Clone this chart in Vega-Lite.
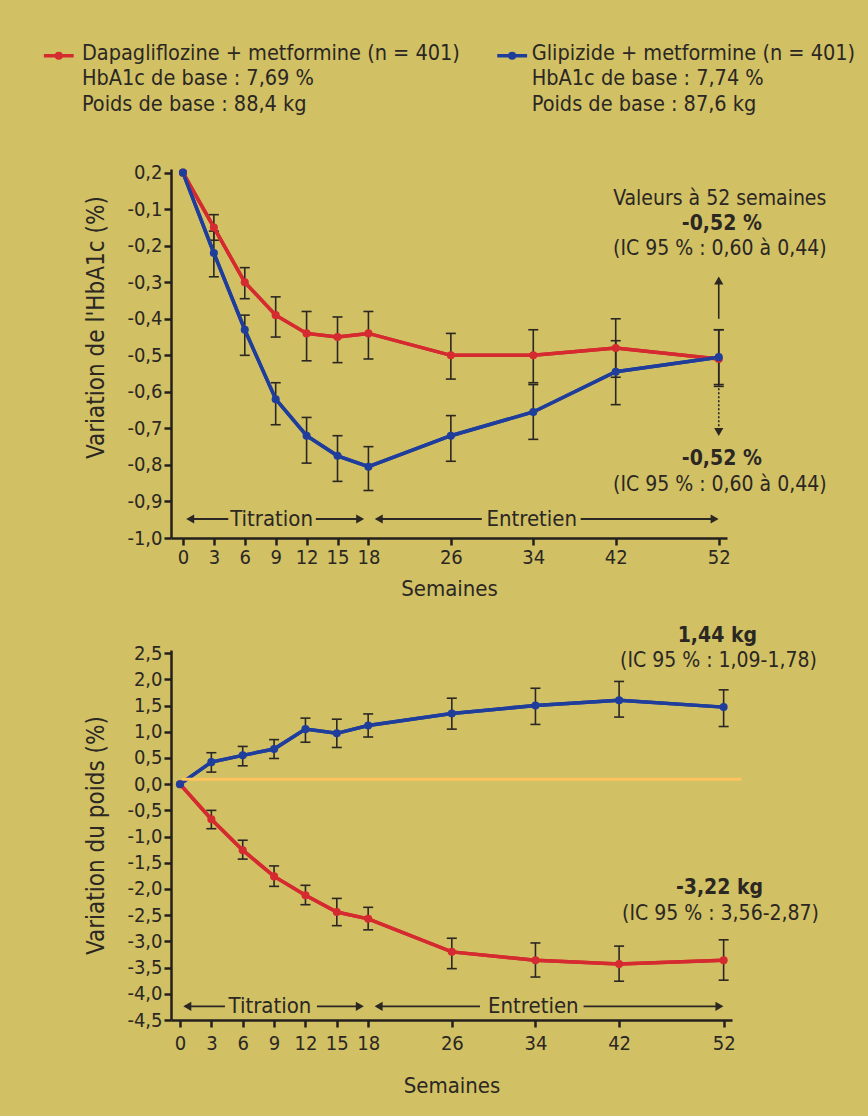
{
  "$schema": "https://vega.github.io/schema/vega-lite/v6.json",
  "background": "#d1c064",
  "padding": {"left": 42, "top": 43, "right": 40, "bottom": 22},
  "bounds": "flush",
  "spacing": 112,
  "config": {
    "font": "Liberation Sans Narrow, DejaVu Sans Condensed, sans-serif",
    "view": {"stroke": null},
    "axis": {
      "grid": false,
      "domainColor": "#231f1c",
      "domainWidth": 2.5,
      "tickColor": "#231f1c",
      "tickWidth": 2.5,
      "tickSize": 7,
      "labelFontSize": 20,
      "labelColor": "#2b2723",
      "labelOverlap": false,
      "titleFontSize": 22,
      "titleFontWeight": "normal",
      "titleColor": "#2b2723",
      "labelFont": "Liberation Sans Narrow, DejaVu Sans Condensed, sans-serif",
      "titleFont": "Liberation Sans Narrow, DejaVu Sans Condensed, sans-serif"
    },
    "text": {"fontSize": 21, "color": "#2b2723"}
  },
  "datasets": {
    "hba": [
      {"week": 0, "groupe": "Dapagliflozine + metformine", "val": 0, "lo": 0, "hi": 0},
      {"week": 3, "groupe": "Dapagliflozine + metformine", "val": -0.15, "lo": -0.185, "hi": -0.115},
      {"week": 6, "groupe": "Dapagliflozine + metformine", "val": -0.30, "lo": -0.345, "hi": -0.26},
      {"week": 9, "groupe": "Dapagliflozine + metformine", "val": -0.39, "lo": -0.45, "hi": -0.34},
      {"week": 12, "groupe": "Dapagliflozine + metformine", "val": -0.44, "lo": -0.515, "hi": -0.38},
      {"week": 15, "groupe": "Dapagliflozine + metformine", "val": -0.45, "lo": -0.52, "hi": -0.395},
      {"week": 18, "groupe": "Dapagliflozine + metformine", "val": -0.44, "lo": -0.51, "hi": -0.38},
      {"week": 26, "groupe": "Dapagliflozine + metformine", "val": -0.50, "lo": -0.565, "hi": -0.44},
      {"week": 34, "groupe": "Dapagliflozine + metformine", "val": -0.50, "lo": -0.575, "hi": -0.43},
      {"week": 42, "groupe": "Dapagliflozine + metformine", "val": -0.48, "lo": -0.56, "hi": -0.40},
      {"week": 52, "groupe": "Dapagliflozine + metformine", "val": -0.51, "lo": -0.585, "hi": -0.43},
      {"week": 0, "groupe": "Glipizide + metformine", "val": 0, "lo": 0, "hi": 0},
      {"week": 3, "groupe": "Glipizide + metformine", "val": -0.22, "lo": -0.285, "hi": -0.16},
      {"week": 6, "groupe": "Glipizide + metformine", "val": -0.43, "lo": -0.50, "hi": -0.39},
      {"week": 9, "groupe": "Glipizide + metformine", "val": -0.62, "lo": -0.69, "hi": -0.575},
      {"week": 12, "groupe": "Glipizide + metformine", "val": -0.72, "lo": -0.795, "hi": -0.67},
      {"week": 15, "groupe": "Glipizide + metformine", "val": -0.775, "lo": -0.845, "hi": -0.72},
      {"week": 18, "groupe": "Glipizide + metformine", "val": -0.805, "lo": -0.87, "hi": -0.75},
      {"week": 26, "groupe": "Glipizide + metformine", "val": -0.72, "lo": -0.79, "hi": -0.665},
      {"week": 34, "groupe": "Glipizide + metformine", "val": -0.655, "lo": -0.73, "hi": -0.58},
      {"week": 42, "groupe": "Glipizide + metformine", "val": -0.545, "lo": -0.635, "hi": -0.46},
      {"week": 52, "groupe": "Glipizide + metformine", "val": -0.505, "lo": -0.58, "hi": -0.43}
    ],
    "poids": [
      {"week": 0, "groupe": "Dapagliflozine + metformine", "val": 0, "lo": 0, "hi": 0},
      {"week": 3, "groupe": "Dapagliflozine + metformine", "val": -0.67, "lo": -0.85, "hi": -0.5},
      {"week": 6, "groupe": "Dapagliflozine + metformine", "val": -1.26, "lo": -1.43, "hi": -1.07},
      {"week": 9, "groupe": "Dapagliflozine + metformine", "val": -1.76, "lo": -1.95, "hi": -1.56},
      {"week": 12, "groupe": "Dapagliflozine + metformine", "val": -2.12, "lo": -2.3, "hi": -1.93},
      {"week": 15, "groupe": "Dapagliflozine + metformine", "val": -2.44, "lo": -2.7, "hi": -2.18},
      {"week": 18, "groupe": "Dapagliflozine + metformine", "val": -2.57, "lo": -2.78, "hi": -2.35},
      {"week": 26, "groupe": "Dapagliflozine + metformine", "val": -3.2, "lo": -3.52, "hi": -2.94},
      {"week": 34, "groupe": "Dapagliflozine + metformine", "val": -3.36, "lo": -3.68, "hi": -3.03},
      {"week": 42, "groupe": "Dapagliflozine + metformine", "val": -3.43, "lo": -3.76, "hi": -3.09},
      {"week": 52, "groupe": "Dapagliflozine + metformine", "val": -3.36, "lo": -3.74, "hi": -2.97},
      {"week": 0, "groupe": "Glipizide + metformine", "val": 0, "lo": 0, "hi": 0},
      {"week": 3, "groupe": "Glipizide + metformine", "val": 0.42, "lo": 0.23, "hi": 0.6},
      {"week": 6, "groupe": "Glipizide + metformine", "val": 0.55, "lo": 0.35, "hi": 0.72},
      {"week": 9, "groupe": "Glipizide + metformine", "val": 0.67, "lo": 0.49, "hi": 0.85},
      {"week": 12, "groupe": "Glipizide + metformine", "val": 1.05, "lo": 0.8, "hi": 1.26},
      {"week": 15, "groupe": "Glipizide + metformine", "val": 0.97, "lo": 0.7, "hi": 1.24},
      {"week": 18, "groupe": "Glipizide + metformine", "val": 1.12, "lo": 0.9, "hi": 1.34},
      {"week": 26, "groupe": "Glipizide + metformine", "val": 1.35, "lo": 1.05, "hi": 1.64},
      {"week": 34, "groupe": "Glipizide + metformine", "val": 1.5, "lo": 1.14, "hi": 1.83},
      {"week": 42, "groupe": "Glipizide + metformine", "val": 1.6, "lo": 1.28, "hi": 1.96},
      {"week": 52, "groupe": "Glipizide + metformine", "val": 1.47, "lo": 1.1, "hi": 1.8}
    ]
  },
  "vconcat": [
    {
      "width": 556,
      "height": 369,
      "resolve": {"axis": {"y": "independent"}},
      "encoding": {
        "x": {"type": "quantitative", "scale": {"domain": [-1.16, 52.8], "nice": false, "zero": false},
              "axis": {"values": [0, 3, 6, 9, 12, 15, 18, 26, 34, 42, 52], "title": "Semaines", "labelPadding": 2, "titlePadding": 11}}
      },
      "layer": [
        {
          "data": {"name": "hba"},
          "mark": {"type": "line", "strokeWidth": 3.5},
          "encoding": {
            "x": {"field": "week", "type": "quantitative"},
            "y": {"field": "val", "type": "quantitative", "scale": {"domain": [-1.0, 0.01], "nice": false, "zero": false},
                  "axis": {"values": [0, -0.1, -0.2, -0.3, -0.4, -0.5, -0.6, -0.7, -0.8, -0.9, -1.0],
                           "labelExpr": "datum.value > -0.05 ? '0,2' : '-' + replace(format(abs(datum.value), '.1f'), '.', ',')",
                           "title": "Variation de l'HbA1c (%)", "titleFontSize": 24, "titleY": 158, "titlePadding": 18, "labelPadding": 2}},
            "color": {"field": "groupe", "type": "nominal", "scale": {"domain": ["Dapagliflozine + metformine", "Glipizide + metformine"], "range": ["#d42a30", "#1f3e9c"]}, "legend": null}
          }
        },
        {
          "data": {"name": "hba"},
          "transform": [{"filter": "datum.week > 0"}],
          "mark": {"type": "rule", "strokeWidth": 1.6, "color": "#2b2723"},
          "encoding": {
            "x": {"field": "week", "type": "quantitative"},
            "y": {"field": "lo", "type": "quantitative", "axis": null},
            "y2": {"field": "hi"}
          }
        },
        {
          "data": {"name": "hba"},
          "transform": [{"filter": "datum.week > 0"}, {"fold": ["lo", "hi"], "as": ["bound", "bval"]}],
          "mark": {"type": "tick", "orient": "horizontal", "size": 10, "thickness": 1.6, "color": "#2b2723", "opacity": 1},
          "encoding": {
            "x": {"field": "week", "type": "quantitative"},
            "y": {"field": "bval", "type": "quantitative", "axis": null}
          }
        },
        {
          "data": {"name": "hba"},
          "mark": {"type": "line", "strokeWidth": 3.5},
          "encoding": {
            "x": {"field": "week", "type": "quantitative"},
            "y": {"field": "val", "type": "quantitative", "axis": null},
            "color": {"field": "groupe", "type": "nominal", "legend": null}
          }
        },
        {
          "data": {"name": "hba"},
          "mark": {"type": "point", "filled": true, "size": 65, "opacity": 1},
          "encoding": {
            "x": {"field": "week", "type": "quantitative"},
            "y": {"field": "val", "type": "quantitative", "axis": null},
            "color": {"field": "groupe", "type": "nominal", "legend": null}
          }
        },
        {
          "data": {"values": [
            {"x": -13.5, "x2": -10.6, "y": 0.32, "groupe": "Dapagliflozine + metformine"},
            {"x": 30.5, "x2": 33.4, "y": 0.32, "groupe": "Glipizide + metformine"}
          ]},
          "mark": {"type": "rule", "strokeWidth": 3.5},
          "encoding": {
            "x": {"field": "x", "type": "quantitative"},
            "x2": {"field": "x2"},
            "y": {"field": "y", "type": "quantitative", "axis": null},
            "color": {"field": "groupe", "type": "nominal", "legend": null}
          }
        },
        {
          "data": {"values": [
            {"x": -12.05, "y": 0.32, "groupe": "Dapagliflozine + metformine"},
            {"x": 31.95, "y": 0.32, "groupe": "Glipizide + metformine"}
          ]},
          "mark": {"type": "point", "filled": true, "size": 65, "opacity": 1},
          "encoding": {
            "x": {"field": "x", "type": "quantitative"},
            "y": {"field": "y", "type": "quantitative", "axis": null},
            "color": {"field": "groupe", "type": "nominal", "legend": null}
          }
        },
        {
          "data": {"values": [
            {"x": -9.8, "y": 0.324, "label": "Dapagliflozine + metformine (n = 401)"},
            {"x": -9.8, "y": 0.255, "label": "HbA1c de base : 7,69 %"},
            {"x": -9.8, "y": 0.184, "label": "Poids de base : 88,4 kg"},
            {"x": 33.85, "y": 0.324, "label": "Glipizide + metformine (n = 401)"},
            {"x": 33.85, "y": 0.255, "label": "HbA1c de base : 7,74 %"},
            {"x": 33.85, "y": 0.184, "label": "Poids de base : 87,6 kg"}
          ]},
          "mark": {"type": "text", "align": "left", "baseline": "middle", "fontSize": 21.5},
          "encoding": {
            "x": {"field": "x", "type": "quantitative"},
            "y": {"field": "y", "type": "quantitative", "axis": null},
            "text": {"field": "label"}
          }
        },
        {
          "data": {"values": [
            {"x": 52.1, "y": -0.071, "label": "Valeurs à 52 semaines"},
            {"x": 52.1, "y": -0.208, "label": "(IC 95 % : 0,60 à 0,44)"},
            {"x": 52.1, "y": -0.855, "label": "(IC 95 % : 0,60 à 0,44)"}
          ]},
          "mark": {"type": "text", "align": "center", "baseline": "middle", "fontSize": 21},
          "encoding": {
            "x": {"field": "x", "type": "quantitative"},
            "y": {"field": "y", "type": "quantitative", "axis": null},
            "text": {"field": "label"}
          }
        },
        {
          "data": {"values": [
            {"x": 52.3, "y": -0.14, "label": "-0,52 %"},
            {"x": 52.3, "y": -0.784, "label": "-0,52 %"}
          ]},
          "mark": {"type": "text", "align": "center", "baseline": "middle", "fontSize": 21, "fontWeight": "bold"},
          "encoding": {
            "x": {"field": "x", "type": "quantitative"},
            "y": {"field": "y", "type": "quantitative", "axis": null},
            "text": {"field": "label"}
          }
        },
        {
          "data": {"values": [{"x": 52, "y": -0.40, "y2": -0.30}]},
          "mark": {"type": "rule", "strokeWidth": 1.6, "color": "#2b2723"},
          "encoding": {
            "x": {"field": "x", "type": "quantitative"},
            "y": {"field": "y", "type": "quantitative", "axis": null},
            "y2": {"field": "y2"}
          }
        },
        {
          "data": {"values": [{"x": 52, "y": -0.59, "y2": -0.70}]},
          "mark": {"type": "rule", "strokeWidth": 1.6, "color": "#2b2723", "strokeDash": [2, 2]},
          "encoding": {
            "x": {"field": "x", "type": "quantitative"},
            "y": {"field": "y", "type": "quantitative", "axis": null},
            "y2": {"field": "y2"}
          }
        },
        {
          "data": {"values": [
            {"x": 0.5, "x2": 4.4, "y": -0.948},
            {"x": 12.9, "x2": 17.2, "y": -0.948},
            {"x": 18.8, "x2": 29.0, "y": -0.948},
            {"x": 38.6, "x2": 51.6, "y": -0.948}
          ]},
          "mark": {"type": "rule", "strokeWidth": 1.8, "color": "#2b2723"},
          "encoding": {
            "x": {"field": "x", "type": "quantitative"},
            "x2": {"field": "x2"},
            "y": {"field": "y", "type": "quantitative", "axis": null}
          }
        },
        {
          "data": {"values": [
            {"x": 52, "y": -0.295, "dir": "up"},
            {"x": 52, "y": -0.71, "dir": "down"},
            {"x": 0.7, "y": -0.948, "dir": "left"},
            {"x": 17.2, "y": -0.948, "dir": "right"},
            {"x": 19.0, "y": -0.948, "dir": "left"},
            {"x": 51.6, "y": -0.948, "dir": "right"}
          ]},
          "mark": {"type": "point", "filled": true, "size": 85, "opacity": 1, "color": "#2b2723"},
          "encoding": {
            "x": {"field": "x", "type": "quantitative"},
            "y": {"field": "y", "type": "quantitative", "axis": null},
            "shape": {"field": "dir", "type": "nominal", "scale": {"domain": ["up", "down", "left", "right"], "range": ["triangle-up", "triangle-down", "triangle-left", "triangle-right"]}, "legend": null}
          }
        },
        {
          "data": {"values": [
            {"x": 8.6, "y": -0.948, "label": "Titration"},
            {"x": 33.85, "y": -0.948, "label": "Entretien"}
          ]},
          "mark": {"type": "text", "align": "center", "baseline": "middle", "fontSize": 22},
          "encoding": {
            "x": {"field": "x", "type": "quantitative"},
            "y": {"field": "y", "type": "quantitative", "axis": null},
            "text": {"field": "label"}
          }
        }
      ]
    },
    {
      "width": 561,
      "height": 370,
      "resolve": {"axis": {"y": "independent"}},
      "encoding": {
        "x": {"type": "quantitative", "scale": {"domain": [-0.86, 52.8], "nice": false, "zero": false},
              "axis": {"values": [0, 3, 6, 9, 12, 15, 18, 26, 34, 42, 52], "title": "Semaines", "labelPadding": 6, "titlePadding": 22}}
      },
      "layer": [
        {
          "data": {"name": "poids"},
          "mark": {"type": "line", "strokeWidth": 3.5},
          "encoding": {
            "x": {"field": "week", "type": "quantitative"},
            "y": {"field": "val", "type": "quantitative", "scale": {"domain": [-4.5, 2.56], "nice": false, "zero": false},
                  "axis": {"values": [2.5, 2, 1.5, 1, 0.5, 0, -0.5, -1, -1.5, -2, -2.5, -3, -3.5, -4, -4.5],
                           "labelExpr": "(datum.value < -0.01 ? '-' : '') + replace(format(abs(datum.value), '.1f'), '.', ',')",
                           "title": "Variation du poids (%)", "titleFontSize": 24, "titlePadding": 18, "labelPadding": 2}},
            "color": {"field": "groupe", "type": "nominal", "scale": {"domain": ["Dapagliflozine + metformine", "Glipizide + metformine"], "range": ["#d42a30", "#1f3e9c"]}, "legend": null}
          }
        },
        {
          "data": {"name": "poids"},
          "transform": [{"filter": "datum.week > 0"}],
          "mark": {"type": "rule", "strokeWidth": 1.6, "color": "#2b2723"},
          "encoding": {
            "x": {"field": "week", "type": "quantitative"},
            "y": {"field": "lo", "type": "quantitative", "axis": null},
            "y2": {"field": "hi"}
          }
        },
        {
          "data": {"name": "poids"},
          "transform": [{"filter": "datum.week > 0"}, {"fold": ["lo", "hi"], "as": ["bound", "bval"]}],
          "mark": {"type": "tick", "orient": "horizontal", "size": 10, "thickness": 1.6, "color": "#2b2723", "opacity": 1},
          "encoding": {
            "x": {"field": "week", "type": "quantitative"},
            "y": {"field": "bval", "type": "quantitative", "axis": null}
          }
        },
        {
          "data": {"name": "poids"},
          "mark": {"type": "line", "strokeWidth": 3.5},
          "encoding": {
            "x": {"field": "week", "type": "quantitative"},
            "y": {"field": "val", "type": "quantitative", "axis": null},
            "color": {"field": "groupe", "type": "nominal", "legend": null}
          }
        },
        {
          "data": {"name": "poids"},
          "mark": {"type": "point", "filled": true, "size": 65, "opacity": 1},
          "encoding": {
            "x": {"field": "week", "type": "quantitative"},
            "y": {"field": "val", "type": "quantitative", "axis": null},
            "color": {"field": "groupe", "type": "nominal", "legend": null}
          }
        },
        {
          "data": {"values": [
            {"x": 51.4, "y": 2.82, "label": "1,44 kg"},
            {"x": 51.6, "y": -1.98, "label": "-3,22 kg"}
          ]},
          "mark": {"type": "text", "align": "center", "baseline": "middle", "fontSize": 21, "fontWeight": "bold"},
          "encoding": {
            "x": {"field": "x", "type": "quantitative"},
            "y": {"field": "y", "type": "quantitative", "axis": null},
            "text": {"field": "label"}
          }
        },
        {
          "data": {"values": [
            {"x": 51.5, "y": 2.35, "label": "(IC 95 % : 1,09-1,78)"},
            {"x": 51.7, "y": -2.48, "label": "(IC 95 % : 3,56-2,87)"}
          ]},
          "mark": {"type": "text", "align": "center", "baseline": "middle", "fontSize": 21},
          "encoding": {
            "x": {"field": "x", "type": "quantitative"},
            "y": {"field": "y", "type": "quantitative", "axis": null},
            "text": {"field": "label"}
          }
        },
        {
          "data": {"values": [
            {"x": 0.5, "x2": 4.3, "y": -4.24},
            {"x": 13.1, "x2": 17.2, "y": -4.24},
            {"x": 18.8, "x2": 28.7, "y": -4.24},
            {"x": 38.6, "x2": 51.6, "y": -4.24}
          ]},
          "mark": {"type": "rule", "strokeWidth": 1.8, "color": "#2b2723"},
          "encoding": {
            "x": {"field": "x", "type": "quantitative"},
            "x2": {"field": "x2"},
            "y": {"field": "y", "type": "quantitative", "axis": null}
          }
        },
        {
          "data": {"values": [
            {"x": 0.7, "y": -4.24, "dir": "left"},
            {"x": 17.2, "y": -4.24, "dir": "right"},
            {"x": 19.0, "y": -4.24, "dir": "left"},
            {"x": 51.6, "y": -4.24, "dir": "right"}
          ]},
          "mark": {"type": "point", "filled": true, "size": 85, "opacity": 1, "color": "#2b2723"},
          "encoding": {
            "x": {"field": "x", "type": "quantitative"},
            "y": {"field": "y", "type": "quantitative", "axis": null},
            "shape": {"field": "dir", "type": "nominal", "scale": {"domain": ["up", "down", "left", "right"], "range": ["triangle-up", "triangle-down", "triangle-left", "triangle-right"]}, "legend": null}
          }
        },
        {
          "data": {"values": [
            {"x": 8.6, "y": -4.24, "label": "Titration"},
            {"x": 33.8, "y": -4.24, "label": "Entretien"}
          ]},
          "mark": {"type": "text", "align": "center", "baseline": "middle", "fontSize": 22},
          "encoding": {
            "x": {"field": "x", "type": "quantitative"},
            "y": {"field": "y", "type": "quantitative", "axis": null},
            "text": {"field": "label"}
          }
        },
        {
          "data": {"values": [{"x": 0.2, "x2": 53.7, "y": 0.095}]},
          "mark": {"type": "rule", "strokeWidth": 3, "color": "#ffc45e"},
          "encoding": {
            "x": {"field": "x", "type": "quantitative"},
            "x2": {"field": "x2"},
            "y": {"field": "y", "type": "quantitative", "axis": null}
          }
        }
      ]
    }
  ]
}
